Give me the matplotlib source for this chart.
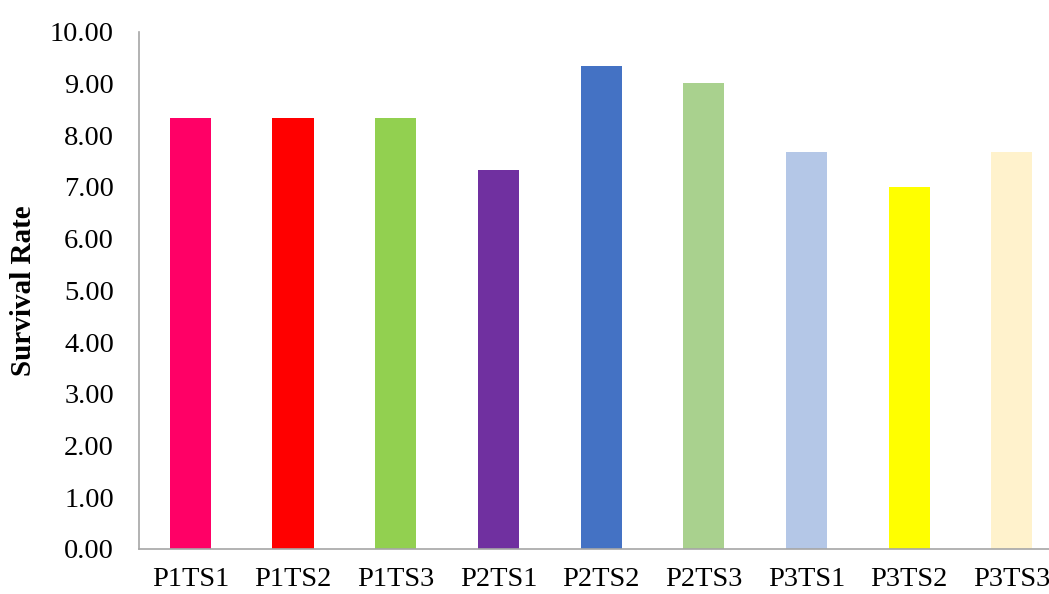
import matplotlib.pyplot as plt
from matplotlib.ticker import FormatStrFormatter

# Survival rate per treatment
treatments = ['P1TS1', 'P1TS2', 'P1TS3', 'P2TS1', 'P2TS2',
              'P2TS3', 'P3TS1', 'P3TS2', 'P3TS3']
survival = [8.33, 8.33, 8.33, 7.33, 9.33, 9.00, 7.67, 7.00, 7.67]
colors = ['#FF0066', '#FF0000', '#92D050', '#7030A0', '#4472C4',
          '#A9D18E', '#B4C7E7', '#FFFF00', '#FFF2CC']

plt.rcParams['font.family'] = ['Liberation Serif', 'DejaVu Serif']

fig = plt.figure(figsize=(10.49, 5.94), dpi=100)
ax = fig.add_axes([0.1325, 0.0758, 0.881, 0.8709])

x = range(len(treatments))
ax.bar(x, survival, width=0.4, color=colors)

ax.set_xlim(-0.5, len(treatments) - 0.5)
ax.set_ylim(0, 10)
ax.set_yticks(range(0, 11))
ax.yaxis.set_major_formatter(FormatStrFormatter('%.2f'))
ax.set_xticks(list(x))
ax.set_xticklabels(treatments)

ax.tick_params(axis='both', length=0, labelsize=20.5, colors='black')
ax.tick_params(axis='x', pad=13)
ax.tick_params(axis='y', pad=18)

for side in ['top', 'right']:
    ax.spines[side].set_visible(False)
for side in ['left', 'bottom']:
    ax.spines[side].set_color('#A6A6A6')
    ax.spines[side].set_linewidth(1.2)

ax.set_ylabel('Survival Rate', fontsize=21, fontweight='bold', labelpad=9)

fig.savefig('out.png', dpi=100)
